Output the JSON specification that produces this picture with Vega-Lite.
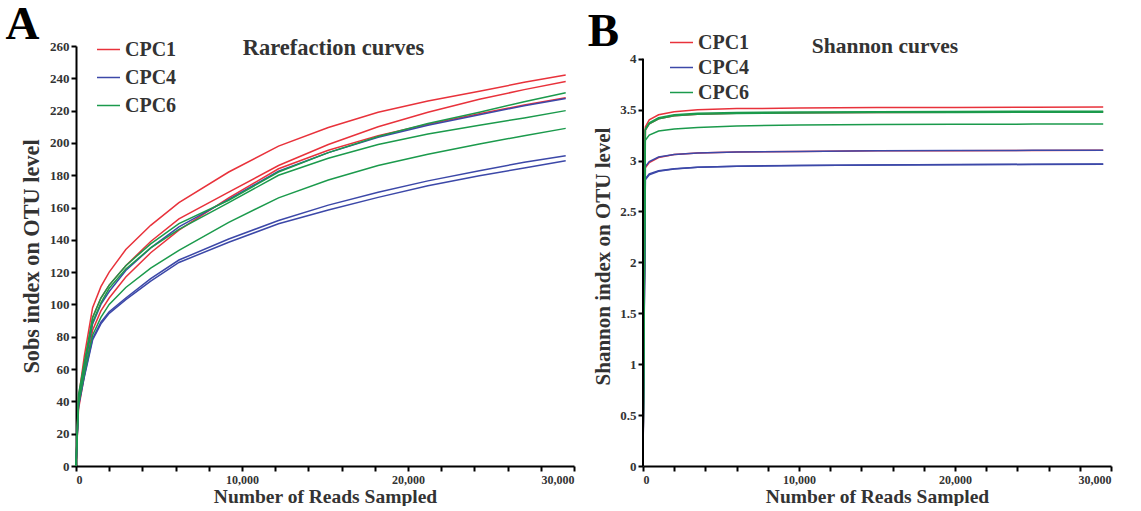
{
  "$schema": "https://vega.github.io/schema/vega-lite/v6.json",
  "padding": {"left": 5, "top": 0, "right": 5, "bottom": 0},
  "spacing": 12,
  "config": {
    "view": {"stroke": null},
    "font": "Liberation Serif",
    "axis": {
      "grid": false,
      "labelOverlap": false,
      "tickCount": 40,
      "domainColor": "black",
      "domainWidth": 2,
      "tickColor": "black",
      "tickWidth": 2,
      "tickSize": 5,
      "labelFont": "Liberation Serif",
      "labelFontWeight": "bold",
      "labelFontSize": 13,
      "labelColor": "#333333",
      "titleFont": "Liberation Serif",
      "titleFontWeight": "bold",
      "titleFontSize": 21.5,
      "titleColor": "#333333"
    }
  },
  "resolve": {"scale": {"color": "independent"}, "legend": {"color": "independent"}},
  "datasets": {
    "rare": [
      {"s":"CPC1_1","g":"CPC1","x":0,"y":0},{"s":"CPC1_1","g":"CPC1","x":150,"y":42},{"s":"CPC1_1","g":"CPC1","x":500,"y":68},{"s":"CPC1_1","g":"CPC1","x":1000,"y":98},{"s":"CPC1_1","g":"CPC1","x":1500,"y":111},{"s":"CPC1_1","g":"CPC1","x":2000,"y":120},{"s":"CPC1_1","g":"CPC1","x":3000,"y":134},{"s":"CPC1_1","g":"CPC1","x":4500,"y":149},{"s":"CPC1_1","g":"CPC1","x":6200,"y":163},{"s":"CPC1_1","g":"CPC1","x":9200,"y":182},{"s":"CPC1_1","g":"CPC1","x":12200,"y":198},{"s":"CPC1_1","g":"CPC1","x":15200,"y":209.5},{"s":"CPC1_1","g":"CPC1","x":18200,"y":219},{"s":"CPC1_1","g":"CPC1","x":21200,"y":226},{"s":"CPC1_1","g":"CPC1","x":24300,"y":232},{"s":"CPC1_1","g":"CPC1","x":27000,"y":237.5},{"s":"CPC1_1","g":"CPC1","x":29500,"y":242},
      {"s":"CPC1_2","g":"CPC1","x":0,"y":0},{"s":"CPC1_2","g":"CPC1","x":150,"y":40},{"s":"CPC1_2","g":"CPC1","x":500,"y":62},{"s":"CPC1_2","g":"CPC1","x":1000,"y":92},{"s":"CPC1_2","g":"CPC1","x":1500,"y":104},{"s":"CPC1_2","g":"CPC1","x":2000,"y":112},{"s":"CPC1_2","g":"CPC1","x":3000,"y":124},{"s":"CPC1_2","g":"CPC1","x":4500,"y":139},{"s":"CPC1_2","g":"CPC1","x":6200,"y":153},{"s":"CPC1_2","g":"CPC1","x":9200,"y":169.5},{"s":"CPC1_2","g":"CPC1","x":12200,"y":186},{"s":"CPC1_2","g":"CPC1","x":15200,"y":199},{"s":"CPC1_2","g":"CPC1","x":18200,"y":210},{"s":"CPC1_2","g":"CPC1","x":21200,"y":219},{"s":"CPC1_2","g":"CPC1","x":24300,"y":227},{"s":"CPC1_2","g":"CPC1","x":27000,"y":233},{"s":"CPC1_2","g":"CPC1","x":29500,"y":238},
      {"s":"CPC1_3","g":"CPC1","x":0,"y":0},{"s":"CPC1_3","g":"CPC1","x":150,"y":35},{"s":"CPC1_3","g":"CPC1","x":500,"y":56},{"s":"CPC1_3","g":"CPC1","x":1000,"y":84},{"s":"CPC1_3","g":"CPC1","x":1500,"y":96},{"s":"CPC1_3","g":"CPC1","x":2000,"y":104},{"s":"CPC1_3","g":"CPC1","x":3000,"y":117},{"s":"CPC1_3","g":"CPC1","x":4500,"y":132},{"s":"CPC1_3","g":"CPC1","x":6200,"y":146},{"s":"CPC1_3","g":"CPC1","x":9200,"y":166},{"s":"CPC1_3","g":"CPC1","x":12200,"y":184},{"s":"CPC1_3","g":"CPC1","x":15200,"y":195.5},{"s":"CPC1_3","g":"CPC1","x":18200,"y":204.5},{"s":"CPC1_3","g":"CPC1","x":21200,"y":211.5},{"s":"CPC1_3","g":"CPC1","x":24300,"y":218},{"s":"CPC1_3","g":"CPC1","x":27000,"y":223.5},{"s":"CPC1_3","g":"CPC1","x":29500,"y":228},
      {"s":"CPC4_1","g":"CPC4","x":0,"y":0},{"s":"CPC4_1","g":"CPC4","x":150,"y":40},{"s":"CPC4_1","g":"CPC4","x":500,"y":60},{"s":"CPC4_1","g":"CPC4","x":1000,"y":88},{"s":"CPC4_1","g":"CPC4","x":1500,"y":100},{"s":"CPC4_1","g":"CPC4","x":2000,"y":108},{"s":"CPC4_1","g":"CPC4","x":3000,"y":121},{"s":"CPC4_1","g":"CPC4","x":4500,"y":135},{"s":"CPC4_1","g":"CPC4","x":6200,"y":148},{"s":"CPC4_1","g":"CPC4","x":9200,"y":165},{"s":"CPC4_1","g":"CPC4","x":12200,"y":182.5},{"s":"CPC4_1","g":"CPC4","x":15200,"y":194},{"s":"CPC4_1","g":"CPC4","x":18200,"y":203.5},{"s":"CPC4_1","g":"CPC4","x":21200,"y":211},{"s":"CPC4_1","g":"CPC4","x":24300,"y":217.5},{"s":"CPC4_1","g":"CPC4","x":27000,"y":223},{"s":"CPC4_1","g":"CPC4","x":29500,"y":227.5},
      {"s":"CPC4_2","g":"CPC4","x":0,"y":0},{"s":"CPC4_2","g":"CPC4","x":150,"y":38},{"s":"CPC4_2","g":"CPC4","x":500,"y":56},{"s":"CPC4_2","g":"CPC4","x":1000,"y":79},{"s":"CPC4_2","g":"CPC4","x":1500,"y":89},{"s":"CPC4_2","g":"CPC4","x":2000,"y":95.5},{"s":"CPC4_2","g":"CPC4","x":3000,"y":104},{"s":"CPC4_2","g":"CPC4","x":4500,"y":116},{"s":"CPC4_2","g":"CPC4","x":6200,"y":127.5},{"s":"CPC4_2","g":"CPC4","x":9200,"y":140.5},{"s":"CPC4_2","g":"CPC4","x":12200,"y":152},{"s":"CPC4_2","g":"CPC4","x":15200,"y":161.5},{"s":"CPC4_2","g":"CPC4","x":18200,"y":169.5},{"s":"CPC4_2","g":"CPC4","x":21200,"y":176.5},{"s":"CPC4_2","g":"CPC4","x":24300,"y":182.8},{"s":"CPC4_2","g":"CPC4","x":27000,"y":188},{"s":"CPC4_2","g":"CPC4","x":29500,"y":192},
      {"s":"CPC4_3","g":"CPC4","x":0,"y":0},{"s":"CPC4_3","g":"CPC4","x":150,"y":37},{"s":"CPC4_3","g":"CPC4","x":500,"y":55},{"s":"CPC4_3","g":"CPC4","x":1000,"y":78},{"s":"CPC4_3","g":"CPC4","x":1500,"y":88},{"s":"CPC4_3","g":"CPC4","x":2000,"y":94.5},{"s":"CPC4_3","g":"CPC4","x":3000,"y":103},{"s":"CPC4_3","g":"CPC4","x":4500,"y":114.5},{"s":"CPC4_3","g":"CPC4","x":6200,"y":126},{"s":"CPC4_3","g":"CPC4","x":9200,"y":138.5},{"s":"CPC4_3","g":"CPC4","x":12200,"y":150},{"s":"CPC4_3","g":"CPC4","x":15200,"y":158.5},{"s":"CPC4_3","g":"CPC4","x":18200,"y":166.3},{"s":"CPC4_3","g":"CPC4","x":21200,"y":173.5},{"s":"CPC4_3","g":"CPC4","x":24300,"y":179.7},{"s":"CPC4_3","g":"CPC4","x":27000,"y":184.5},{"s":"CPC4_3","g":"CPC4","x":29500,"y":189},
      {"s":"CPC6_1","g":"CPC6","x":0,"y":0},{"s":"CPC6_1","g":"CPC6","x":150,"y":44},{"s":"CPC6_1","g":"CPC6","x":500,"y":64},{"s":"CPC6_1","g":"CPC6","x":1000,"y":92},{"s":"CPC6_1","g":"CPC6","x":1500,"y":104},{"s":"CPC6_1","g":"CPC6","x":2000,"y":112},{"s":"CPC6_1","g":"CPC6","x":3000,"y":124},{"s":"CPC6_1","g":"CPC6","x":4500,"y":137.5},{"s":"CPC6_1","g":"CPC6","x":6200,"y":150},{"s":"CPC6_1","g":"CPC6","x":9200,"y":164.5},{"s":"CPC6_1","g":"CPC6","x":12200,"y":182},{"s":"CPC6_1","g":"CPC6","x":15200,"y":194},{"s":"CPC6_1","g":"CPC6","x":18200,"y":204},{"s":"CPC6_1","g":"CPC6","x":21200,"y":212},{"s":"CPC6_1","g":"CPC6","x":24300,"y":219},{"s":"CPC6_1","g":"CPC6","x":27000,"y":225.5},{"s":"CPC6_1","g":"CPC6","x":29500,"y":231},
      {"s":"CPC6_2","g":"CPC6","x":0,"y":0},{"s":"CPC6_2","g":"CPC6","x":150,"y":42},{"s":"CPC6_2","g":"CPC6","x":500,"y":62},{"s":"CPC6_2","g":"CPC6","x":1000,"y":89},{"s":"CPC6_2","g":"CPC6","x":1500,"y":101},{"s":"CPC6_2","g":"CPC6","x":2000,"y":110},{"s":"CPC6_2","g":"CPC6","x":3000,"y":122},{"s":"CPC6_2","g":"CPC6","x":4500,"y":135},{"s":"CPC6_2","g":"CPC6","x":6200,"y":146.5},{"s":"CPC6_2","g":"CPC6","x":9200,"y":163},{"s":"CPC6_2","g":"CPC6","x":12200,"y":180},{"s":"CPC6_2","g":"CPC6","x":15200,"y":190.5},{"s":"CPC6_2","g":"CPC6","x":18200,"y":199},{"s":"CPC6_2","g":"CPC6","x":21200,"y":205.5},{"s":"CPC6_2","g":"CPC6","x":24300,"y":211},{"s":"CPC6_2","g":"CPC6","x":27000,"y":215.5},{"s":"CPC6_2","g":"CPC6","x":29500,"y":220},
      {"s":"CPC6_3","g":"CPC6","x":0,"y":0},{"s":"CPC6_3","g":"CPC6","x":150,"y":38},{"s":"CPC6_3","g":"CPC6","x":500,"y":57},{"s":"CPC6_3","g":"CPC6","x":1000,"y":81},{"s":"CPC6_3","g":"CPC6","x":1500,"y":92},{"s":"CPC6_3","g":"CPC6","x":2000,"y":100},{"s":"CPC6_3","g":"CPC6","x":3000,"y":110.5},{"s":"CPC6_3","g":"CPC6","x":4500,"y":122.5},{"s":"CPC6_3","g":"CPC6","x":6200,"y":133.5},{"s":"CPC6_3","g":"CPC6","x":9200,"y":150.8},{"s":"CPC6_3","g":"CPC6","x":12200,"y":166},{"s":"CPC6_3","g":"CPC6","x":15200,"y":177},{"s":"CPC6_3","g":"CPC6","x":18200,"y":186},{"s":"CPC6_3","g":"CPC6","x":21200,"y":193},{"s":"CPC6_3","g":"CPC6","x":24300,"y":199.3},{"s":"CPC6_3","g":"CPC6","x":27000,"y":204.5},{"s":"CPC6_3","g":"CPC6","x":29500,"y":209}
    ],
    "shannon": [
      {"s":"CPC1_1","g":"CPC1","x":0,"y":0},{"s":"CPC1_1","g":"CPC1","x":150,"y":3.33},{"s":"CPC1_1","g":"CPC1","x":400,"y":3.4},{"s":"CPC1_1","g":"CPC1","x":1000,"y":3.45},{"s":"CPC1_1","g":"CPC1","x":2000,"y":3.48},{"s":"CPC1_1","g":"CPC1","x":3500,"y":3.5},{"s":"CPC1_1","g":"CPC1","x":6000,"y":3.51},{"s":"CPC1_1","g":"CPC1","x":10000,"y":3.515},{"s":"CPC1_1","g":"CPC1","x":15000,"y":3.52},{"s":"CPC1_1","g":"CPC1","x":20000,"y":3.522},{"s":"CPC1_1","g":"CPC1","x":25000,"y":3.524},{"s":"CPC1_1","g":"CPC1","x":29500,"y":3.525},
      {"s":"CPC1_2","g":"CPC1","x":0,"y":0},{"s":"CPC1_2","g":"CPC1","x":150,"y":3.3},{"s":"CPC1_2","g":"CPC1","x":400,"y":3.36},{"s":"CPC1_2","g":"CPC1","x":1000,"y":3.41},{"s":"CPC1_2","g":"CPC1","x":2000,"y":3.44},{"s":"CPC1_2","g":"CPC1","x":3500,"y":3.455},{"s":"CPC1_2","g":"CPC1","x":6000,"y":3.465},{"s":"CPC1_2","g":"CPC1","x":10000,"y":3.47},{"s":"CPC1_2","g":"CPC1","x":15000,"y":3.473},{"s":"CPC1_2","g":"CPC1","x":20000,"y":3.475},{"s":"CPC1_2","g":"CPC1","x":25000,"y":3.477},{"s":"CPC1_2","g":"CPC1","x":29500,"y":3.478},
      {"s":"CPC1_3","g":"CPC1","x":0,"y":0},{"s":"CPC1_3","g":"CPC1","x":150,"y":2.93},{"s":"CPC1_3","g":"CPC1","x":400,"y":2.98},{"s":"CPC1_3","g":"CPC1","x":1000,"y":3.03},{"s":"CPC1_3","g":"CPC1","x":2000,"y":3.06},{"s":"CPC1_3","g":"CPC1","x":3500,"y":3.075},{"s":"CPC1_3","g":"CPC1","x":6000,"y":3.085},{"s":"CPC1_3","g":"CPC1","x":10000,"y":3.09},{"s":"CPC1_3","g":"CPC1","x":15000,"y":3.095},{"s":"CPC1_3","g":"CPC1","x":20000,"y":3.097},{"s":"CPC1_3","g":"CPC1","x":25000,"y":3.099},{"s":"CPC1_3","g":"CPC1","x":29500,"y":3.1},
      {"s":"CPC4_1","g":"CPC4","x":0,"y":0},{"s":"CPC4_1","g":"CPC4","x":150,"y":2.94},{"s":"CPC4_1","g":"CPC4","x":400,"y":2.99},{"s":"CPC4_1","g":"CPC4","x":1000,"y":3.035},{"s":"CPC4_1","g":"CPC4","x":2000,"y":3.06},{"s":"CPC4_1","g":"CPC4","x":3500,"y":3.075},{"s":"CPC4_1","g":"CPC4","x":6000,"y":3.085},{"s":"CPC4_1","g":"CPC4","x":10000,"y":3.09},{"s":"CPC4_1","g":"CPC4","x":15000,"y":3.095},{"s":"CPC4_1","g":"CPC4","x":20000,"y":3.098},{"s":"CPC4_1","g":"CPC4","x":25000,"y":3.1},{"s":"CPC4_1","g":"CPC4","x":29500,"y":3.102},
      {"s":"CPC4_2","g":"CPC4","x":0,"y":0},{"s":"CPC4_2","g":"CPC4","x":150,"y":2.82},{"s":"CPC4_2","g":"CPC4","x":400,"y":2.87},{"s":"CPC4_2","g":"CPC4","x":1000,"y":2.9},{"s":"CPC4_2","g":"CPC4","x":2000,"y":2.92},{"s":"CPC4_2","g":"CPC4","x":3500,"y":2.935},{"s":"CPC4_2","g":"CPC4","x":6000,"y":2.945},{"s":"CPC4_2","g":"CPC4","x":10000,"y":2.952},{"s":"CPC4_2","g":"CPC4","x":15000,"y":2.957},{"s":"CPC4_2","g":"CPC4","x":20000,"y":2.96},{"s":"CPC4_2","g":"CPC4","x":25000,"y":2.963},{"s":"CPC4_2","g":"CPC4","x":29500,"y":2.965},
      {"s":"CPC4_3","g":"CPC4","x":0,"y":0},{"s":"CPC4_3","g":"CPC4","x":150,"y":2.81},{"s":"CPC4_3","g":"CPC4","x":400,"y":2.86},{"s":"CPC4_3","g":"CPC4","x":1000,"y":2.895},{"s":"CPC4_3","g":"CPC4","x":2000,"y":2.918},{"s":"CPC4_3","g":"CPC4","x":3500,"y":2.933},{"s":"CPC4_3","g":"CPC4","x":6000,"y":2.944},{"s":"CPC4_3","g":"CPC4","x":10000,"y":2.951},{"s":"CPC4_3","g":"CPC4","x":15000,"y":2.956},{"s":"CPC4_3","g":"CPC4","x":20000,"y":2.959},{"s":"CPC4_3","g":"CPC4","x":25000,"y":2.962},{"s":"CPC4_3","g":"CPC4","x":29500,"y":2.964},
      {"s":"CPC6_1","g":"CPC6","x":0,"y":0},{"s":"CPC6_1","g":"CPC6","x":150,"y":3.31},{"s":"CPC6_1","g":"CPC6","x":400,"y":3.37},{"s":"CPC6_1","g":"CPC6","x":1000,"y":3.42},{"s":"CPC6_1","g":"CPC6","x":2000,"y":3.45},{"s":"CPC6_1","g":"CPC6","x":3500,"y":3.465},{"s":"CPC6_1","g":"CPC6","x":6000,"y":3.472},{"s":"CPC6_1","g":"CPC6","x":10000,"y":3.477},{"s":"CPC6_1","g":"CPC6","x":15000,"y":3.48},{"s":"CPC6_1","g":"CPC6","x":20000,"y":3.482},{"s":"CPC6_1","g":"CPC6","x":25000,"y":3.484},{"s":"CPC6_1","g":"CPC6","x":29500,"y":3.485},
      {"s":"CPC6_2","g":"CPC6","x":0,"y":0},{"s":"CPC6_2","g":"CPC6","x":150,"y":3.3},{"s":"CPC6_2","g":"CPC6","x":400,"y":3.36},{"s":"CPC6_2","g":"CPC6","x":1000,"y":3.41},{"s":"CPC6_2","g":"CPC6","x":2000,"y":3.44},{"s":"CPC6_2","g":"CPC6","x":3500,"y":3.455},{"s":"CPC6_2","g":"CPC6","x":6000,"y":3.463},{"s":"CPC6_2","g":"CPC6","x":10000,"y":3.468},{"s":"CPC6_2","g":"CPC6","x":15000,"y":3.471},{"s":"CPC6_2","g":"CPC6","x":20000,"y":3.473},{"s":"CPC6_2","g":"CPC6","x":25000,"y":3.474},{"s":"CPC6_2","g":"CPC6","x":29500,"y":3.475},
      {"s":"CPC6_3","g":"CPC6","x":0,"y":0},{"s":"CPC6_3","g":"CPC6","x":150,"y":3.2},{"s":"CPC6_3","g":"CPC6","x":400,"y":3.25},{"s":"CPC6_3","g":"CPC6","x":1000,"y":3.29},{"s":"CPC6_3","g":"CPC6","x":2000,"y":3.31},{"s":"CPC6_3","g":"CPC6","x":3500,"y":3.325},{"s":"CPC6_3","g":"CPC6","x":6000,"y":3.34},{"s":"CPC6_3","g":"CPC6","x":10000,"y":3.348},{"s":"CPC6_3","g":"CPC6","x":15000,"y":3.353},{"s":"CPC6_3","g":"CPC6","x":20000,"y":3.356},{"s":"CPC6_3","g":"CPC6","x":25000,"y":3.358},{"s":"CPC6_3","g":"CPC6","x":29500,"y":3.36}
    ]
  },
  "hconcat": [
    {
      "width": 498,
      "height": 420,
      "title": {"text": "A", "anchor": "start", "frame": "bounds", "font": "Liberation Serif", "fontSize": 47, "fontWeight": "bold", "color": "black", "baseline": "alphabetic", "offset": -49, "dx": -15},
      "layer": [
        {
          "data": {"name": "rare"},
          "mark": {"type": "line", "strokeWidth": 1.5},
          "encoding": {
            "x": {"field": "x", "type": "quantitative", "scale": {"domain": [0, 30000], "nice": false},
              "axis": {"title": "Number of Reads Sampled", "titleFontSize": 19.5, "values": [0,2000,4000,6000,8000,10000,12000,14000,16000,18000,20000,22000,24000,26000,28000,30000], "tickCount": 40, "labelExpr": "datum.value % 10000 === 0 ? format(datum.value, ',') : ''", "labelOverlap": false, "labelPadding": 3, "titlePadding": 2, "labelFontSize": 12}},
            "y": {"field": "y", "type": "quantitative", "scale": {"domain": [0, 260], "nice": false},
              "axis": {"title": "Sobs index on OTU level", "titleFontSize": 22.3, "values": [0,20,40,60,80,100,120,140,160,180,200,220,240,260], "tickCount": 40, "labelOverlap": false, "titlePadding": 6}},
            "color": {"field": "g", "type": "nominal", "scale": {"domain": ["CPC1", "CPC4", "CPC6"], "range": ["#e8323b", "#3c48a8", "#1b9a4c"]},
              "legend": {"title": null, "orient": "none", "legendX": 20, "legendY": -9, "symbolType": "stroke", "symbolSize": 529, "symbolStrokeWidth": 1.5, "labelFont": "Liberation Serif", "labelFontSize": 20, "labelFontWeight": "bold", "labelColor": "#333333", "rowPadding": 5, "labelOffset": 4}},
            "detail": {"field": "s"}
          }
        },
        {
          "data": {"values": [{"label": "Rarefaction curves"}]},
          "mark": {"type": "text", "font": "Liberation Serif", "fontSize": 22.5, "fontWeight": "bold", "color": "#333333", "align": "center", "baseline": "middle"},
          "encoding": {
            "x": {"datum": 15510, "type": "quantitative"},
            "y": {"datum": 258.8, "type": "quantitative"},
            "text": {"field": "label"}
          }
        }
      ]
    },
    {
      "width": 468,
      "height": 420,
      "title": {"text": "B", "anchor": "start", "frame": "bounds", "font": "Liberation Serif", "fontSize": 47, "fontWeight": "bold", "color": "black", "baseline": "alphabetic", "offset": -63, "dx": -5},
      "layer": [
        {
          "data": {"name": "shannon"},
          "mark": {"type": "line", "strokeWidth": 1.5},
          "encoding": {
            "x": {"field": "x", "type": "quantitative", "scale": {"domain": [0, 30000], "nice": false},
              "axis": {"title": "Number of Reads Sampled", "titleFontSize": 19.5, "values": [0,2000,4000,6000,8000,10000,12000,14000,16000,18000,20000,22000,24000,26000,28000,30000], "tickCount": 40, "labelExpr": "datum.value % 10000 === 0 ? format(datum.value, ',') : ''", "labelOverlap": false, "labelPadding": 3, "titlePadding": 2, "labelFontSize": 12}},
            "y": {"field": "y", "type": "quantitative", "scale": {"domain": [0, 4.125], "nice": false},
              "axis": {"title": "Shannon index on OTU level", "titleFontSize": 21, "values": [0,0.5,1,1.5,2,2.5,3,3.5,4], "tickCount": 40, "format": "~g", "labelOverlap": false, "titlePadding": 6, "domain": false}},
            "color": {"field": "g", "type": "nominal", "scale": {"domain": ["CPC1", "CPC4", "CPC6"], "range": ["#e8323b", "#3c48a8", "#1b9a4c"]},
              "legend": {"title": null, "orient": "none", "legendX": 26, "legendY": -16, "symbolType": "stroke", "symbolSize": 529, "symbolStrokeWidth": 1.5, "labelFont": "Liberation Serif", "labelFontSize": 20, "labelFontWeight": "bold", "labelColor": "#333333", "rowPadding": 2, "labelOffset": 4}},
            "detail": {"field": "s"}
          }
        },
        {
          "data": {"values": [{"axis": "y"}]},
          "mark": {"type": "rule", "color": "black", "strokeWidth": 2},
          "encoding": {
            "x": {"datum": 0, "type": "quantitative"},
            "y": {"datum": 0, "type": "quantitative"},
            "y2": {"datum": 4}
          }
        },
        {
          "data": {"values": [{"label": "Shannon curves"}]},
          "mark": {"type": "text", "font": "Liberation Serif", "fontSize": 21.5, "fontWeight": "bold", "color": "#333333", "align": "center", "baseline": "middle"},
          "encoding": {
            "x": {"datum": 15510, "type": "quantitative"},
            "y": {"datum": 4.118, "type": "quantitative"},
            "text": {"field": "label"}
          }
        }
      ]
    }
  ]
}
